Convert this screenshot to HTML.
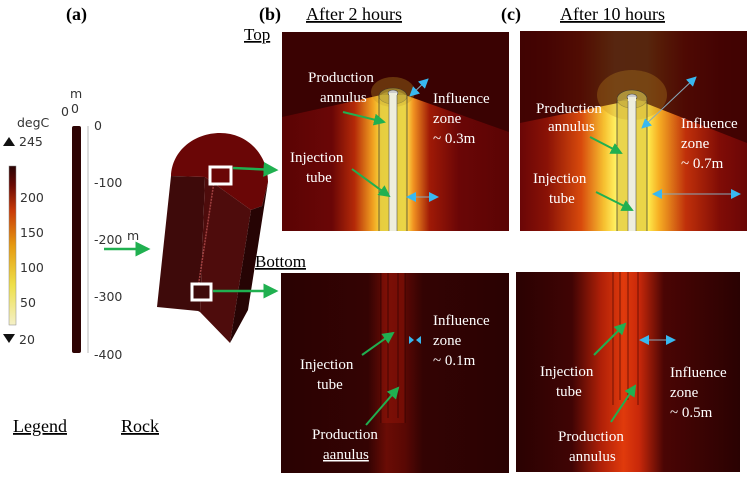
<!DOCTYPE html>
<html><head><meta charset="utf-8"><style>
html,body{margin:0;padding:0;background:#fff;}
svg{display:block;}
.s{font-family:"Liberation Serif",serif;}
.w{fill:#fff;font-family:"Liberation Serif",serif;font-size:15px;}
.d{font-family:"DejaVu Sans","Liberation Sans",sans-serif;font-size:12.5px;fill:#333;}
</style></head><body>
<svg width="756" height="477" viewBox="0 0 756 477" xmlns="http://www.w3.org/2000/svg">
<defs>
<linearGradient id="cb" x1="0" y1="1" x2="0" y2="0">
<stop offset="0" stop-color="#f4f0c8"/><stop offset="0.25" stop-color="#eee04a"/><stop offset="0.5" stop-color="#e69a10"/><stop offset="0.72" stop-color="#c83a08"/><stop offset="0.88" stop-color="#6a0a04"/><stop offset="1" stop-color="#2a0404"/>
</linearGradient>
<linearGradient id="tb" x1="282" x2="509" gradientUnits="userSpaceOnUse">
<stop offset="0" stop-color="#5a0404"/><stop offset="0.22" stop-color="#6a0606"/><stop offset="0.32" stop-color="#b52a08"/><stop offset="0.4" stop-color="#f0a020"/><stop offset="0.44" stop-color="#f8e040"/><stop offset="0.54" stop-color="#fff050"/><stop offset="0.58" stop-color="#f09020"/><stop offset="0.65" stop-color="#a01a06"/><stop offset="0.78" stop-color="#6a0606"/><stop offset="1" stop-color="#5a0404"/>
</linearGradient>
<linearGradient id="tc" x1="520" x2="747" gradientUnits="userSpaceOnUse">
<stop offset="0" stop-color="#6a0606"/><stop offset="0.12" stop-color="#8a1206"/><stop offset="0.27" stop-color="#d84a0c"/><stop offset="0.37" stop-color="#f6c030"/><stop offset="0.42" stop-color="#fff060"/><stop offset="0.56" stop-color="#fff050"/><stop offset="0.61" stop-color="#f7b024"/><stop offset="0.73" stop-color="#c0300a"/><stop offset="0.88" stop-color="#800c06"/><stop offset="1" stop-color="#6a0606"/>
</linearGradient>
<linearGradient id="bb" x1="282" x2="509" gradientUnits="userSpaceOnUse">
<stop offset="0" stop-color="#2a0202"/><stop offset="0.38" stop-color="#340303"/><stop offset="0.46" stop-color="#6a0c05"/><stop offset="0.54" stop-color="#5a0804"/><stop offset="0.62" stop-color="#330303"/><stop offset="1" stop-color="#2a0202"/>
</linearGradient>
<linearGradient id="bc" x1="516" x2="740" gradientUnits="userSpaceOnUse">
<stop offset="0" stop-color="#2a0202"/><stop offset="0.25" stop-color="#400404"/><stop offset="0.38" stop-color="#b02008"/><stop offset="0.48" stop-color="#e03a0c"/><stop offset="0.55" stop-color="#c8280a"/><stop offset="0.66" stop-color="#4a0504"/><stop offset="1" stop-color="#2a0202"/>
</linearGradient>
<marker id="ga" markerWidth="6" markerHeight="6" refX="5" refY="3" orient="auto"><path d="M0,0 L6,3 L0,6z" fill="#20b050"/></marker>
<marker id="ba" markerUnits="userSpaceOnUse" markerWidth="10" markerHeight="10" refX="9" refY="5" orient="auto"><path d="M0,0 L10,5 L0,10z" fill="#38b8f0"/></marker>
<marker id="bs" markerUnits="userSpaceOnUse" markerWidth="10" markerHeight="10" refX="1" refY="5" orient="auto"><path d="M10,0 L0,5 L10,10z" fill="#38b8f0"/></marker>
</defs>

<text x="66" y="20" class="s" font-size="18" font-weight="bold">(a)</text>
<text x="259" y="20" class="s" font-size="18" font-weight="bold">(b)</text>
<text x="306" y="20" class="s" font-size="18" text-decoration="underline">After 2 hours</text>
<text x="501" y="20" class="s" font-size="18" font-weight="bold">(c)</text>
<text x="560" y="20" class="s" font-size="18" text-decoration="underline">After 10 hours</text>
<text x="244" y="40" class="s" font-size="17" text-decoration="underline">Top</text>
<text x="255" y="267" class="s" font-size="17" text-decoration="underline">Bottom</text>
<text x="13" y="432" class="s" font-size="18" text-decoration="underline">Legend</text>
<text x="121" y="432" class="s" font-size="18" text-decoration="underline">Rock</text>

<text x="17" y="127" class="d">degC</text>
<path d="M3,146 L9,137 L15,146z" fill="#111"/><text x="19" y="146" class="d">245</text>
<rect x="9" y="166" width="7" height="159" fill="url(#cb)" stroke="#888" stroke-width="0.5"/>
<text x="20" y="202" class="d">200</text>
<text x="20" y="237" class="d">150</text>
<text x="20" y="272" class="d">100</text>
<text x="20" y="307" class="d">50</text>
<path d="M3,334 L9,343 L15,334z" fill="#111"/><text x="19" y="344" class="d">20</text>
<text x="70" y="98" class="d" font-size="10">m</text>
<text x="61" y="116" class="d" font-size="11">0</text><text x="71" y="113" class="d" font-size="11">0</text>
<rect x="72" y="126" width="9" height="227" fill="#2e0404" rx="2"/>
<line x1="88" y1="126" x2="88" y2="353" stroke="#bbb" stroke-width="1"/>
<text x="94" y="130" class="d">0</text>
<text x="94" y="187" class="d">-100</text>
<text x="94" y="244" class="d">-200</text>
<text x="127" y="240" class="d" font-size="10">m</text>
<text x="94" y="301" class="d">-300</text>
<text x="94" y="359" class="d">-400</text>
<line x1="104" y1="249" x2="148" y2="249" stroke="#20b050" stroke-width="2.5" marker-end="url(#ga)"/>

<path d="M171,176 C172,150 195,133 220,133 C248,133 268,155 268,182 L262,206 L251,210 L205,177 Z" fill="#6a0606"/>
<path d="M171,176 L205,177 L200,312 L198,311 L157,307 Z" fill="#3e0a0a"/>
<path d="M205,177 L251,210 L230,343 L200,312 Z" fill="#4e0c0c"/>
<path d="M251,210 L262,206 L268,182 L248,310 L230,343 Z" fill="#260404"/>
<line x1="215" y1="175" x2="197" y2="295" stroke="#a04040" stroke-width="1.5" stroke-dasharray="2,1"/>
<rect x="210" y="167" width="21" height="17" fill="#6a0606" stroke="#fff" stroke-width="3"/>
<rect x="192" y="284" width="19" height="16" fill="#3e0a0a" stroke="#fff" stroke-width="3"/>
<line x1="233" y1="168" x2="276" y2="170" stroke="#20b050" stroke-width="2.5" marker-end="url(#ga)"/>
<line x1="213" y1="291" x2="276" y2="291" stroke="#20b050" stroke-width="2.5" marker-end="url(#ga)"/>

<rect x="282" y="32" width="227" height="199" fill="url(#tb)"/>
<path d="M282,32 L509,32 L509,132 L405,95 C400,90 386,90 381,95 L282,117 Z" fill="#3a0202"/>
<ellipse cx="393" cy="92" rx="22" ry="15" fill="#c09020" opacity="0.35"/>
<ellipse cx="393" cy="96" rx="14" ry="8" fill="#a89030" opacity="0.8" stroke="#333" stroke-width="0.6"/>
<ellipse cx="393" cy="93" rx="5" ry="3" fill="#ccc" stroke="#444" stroke-width="0.6"/>
<rect x="379" y="95" width="28" height="136" fill="#d8c040" opacity="0.55"/>
<rect x="389" y="93" width="8" height="138" fill="#eeeedd"/>
<line x1="379" y1="95" x2="379" y2="231" stroke="#333" stroke-width="0.7"/>
<line x1="407" y1="95" x2="407" y2="231" stroke="#333" stroke-width="0.7"/>
<line x1="389" y1="95" x2="389" y2="231" stroke="#555" stroke-width="0.6"/>
<line x1="397" y1="95" x2="397" y2="231" stroke="#555" stroke-width="0.6"/>
<text x="308" y="82" class="w">Production</text>
<text x="320" y="102" class="w">annulus</text>
<text x="433" y="103" class="w">Influence</text>
<text x="433" y="123" class="w">zone</text>
<text x="433" y="143" class="w">~ 0.3m</text>
<text x="290" y="162" class="w">Injection</text>
<text x="306" y="182" class="w">tube</text>
<line x1="343" y1="112" x2="384" y2="122" stroke="#20b050" stroke-width="2" marker-end="url(#ga)"/>
<line x1="352" y1="169" x2="389" y2="196" stroke="#20b050" stroke-width="2" marker-end="url(#ga)"/>
<line x1="410" y1="96" x2="428" y2="79" stroke="#8ab" stroke-width="1" marker-start="url(#bs)" marker-end="url(#ba)"/>
<line x1="407" y1="197" x2="438" y2="197" stroke="#8ab" stroke-width="1" marker-start="url(#bs)" marker-end="url(#ba)"/>

<rect x="520" y="31" width="227" height="200" fill="url(#tc)"/>
<path d="M520,31 L747,31 L747,143 L645,103 C638,97 625,97 618,103 L520,123 Z" fill="#3a0202" opacity="0.85"/>
<ellipse cx="632" cy="95" rx="35" ry="25" fill="#c08a20" opacity="0.3"/>
<ellipse cx="632" cy="99" rx="15" ry="9" fill="#b8a040" opacity="0.85" stroke="#333" stroke-width="0.6"/>
<ellipse cx="632" cy="97" rx="5" ry="3" fill="#ccc" stroke="#444" stroke-width="0.6"/>
<rect x="617" y="101" width="30" height="130" fill="#d8c040" opacity="0.55"/>
<rect x="628" y="97" width="8" height="134" fill="#eeeedd"/>
<line x1="617" y1="101" x2="617" y2="231" stroke="#333" stroke-width="0.7"/>
<line x1="647" y1="101" x2="647" y2="231" stroke="#333" stroke-width="0.7"/>
<line x1="628" y1="101" x2="628" y2="231" stroke="#555" stroke-width="0.6"/>
<line x1="636" y1="101" x2="636" y2="231" stroke="#555" stroke-width="0.6"/>
<text x="536" y="113" class="w">Production</text>
<text x="548" y="131" class="w">annulus</text>
<text x="681" y="128" class="w">Influence</text>
<text x="681" y="148" class="w">zone</text>
<text x="681" y="168" class="w">~ 0.7m</text>
<text x="533" y="183" class="w">Injection</text>
<text x="549" y="203" class="w">tube</text>
<line x1="590" y1="137" x2="621" y2="153" stroke="#20b050" stroke-width="2" marker-end="url(#ga)"/>
<line x1="596" y1="192" x2="632" y2="210" stroke="#20b050" stroke-width="2" marker-end="url(#ga)"/>
<line x1="642" y1="128" x2="696" y2="77" stroke="#8ab" stroke-width="1" marker-start="url(#bs)" marker-end="url(#ba)"/>
<line x1="653" y1="194" x2="740" y2="194" stroke="#8ab" stroke-width="1" marker-start="url(#bs)" marker-end="url(#ba)"/>

<rect x="281" y="273" width="228" height="200" fill="url(#bb)"/>
<rect x="381" y="273" width="24" height="150" fill="#a01808" opacity="0.35"/>
<line x1="381" y1="273" x2="381" y2="423" stroke="#200" stroke-width="0.6"/>
<line x1="405" y1="273" x2="405" y2="423" stroke="#200" stroke-width="0.6"/>
<line x1="388" y1="273" x2="388" y2="418" stroke="#200" stroke-width="0.6"/>
<line x1="398" y1="273" x2="398" y2="418" stroke="#200" stroke-width="0.6"/>
<text x="433" y="325" class="w">Influence</text>
<text x="433" y="345" class="w">zone</text>
<text x="433" y="365" class="w">~ 0.1m</text>
<text x="300" y="369" class="w">Injection</text>
<text x="317" y="389" class="w">tube</text>
<text x="312" y="439" class="w">Production</text>
<text x="323" y="459" class="w" text-decoration="underline">aanulus</text>
<line x1="362" y1="355" x2="393" y2="333" stroke="#20b050" stroke-width="2" marker-end="url(#ga)"/>
<line x1="366" y1="425" x2="398" y2="388" stroke="#20b050" stroke-width="2" marker-end="url(#ga)"/>
<path d="M409,336 L414,340 L409,344z M421,336 L416,340 L421,344z" fill="#38b8f0"/>

<rect x="516" y="272" width="224" height="200" fill="url(#bc)"/>
<line x1="613" y1="272" x2="613" y2="405" stroke="#300" stroke-width="0.6"/>
<line x1="638" y1="272" x2="638" y2="405" stroke="#300" stroke-width="0.6"/>
<line x1="620" y1="272" x2="620" y2="400" stroke="#300" stroke-width="0.6"/>
<line x1="628" y1="272" x2="628" y2="400" stroke="#300" stroke-width="0.6"/>
<text x="670" y="377" class="w">Influence</text>
<text x="670" y="397" class="w">zone</text>
<text x="670" y="417" class="w">~ 0.5m</text>
<text x="540" y="376" class="w">Injection</text>
<text x="556" y="396" class="w">tube</text>
<text x="558" y="441" class="w">Production</text>
<text x="569" y="461" class="w">annulus</text>
<line x1="594" y1="355" x2="625" y2="324" stroke="#20b050" stroke-width="2" marker-end="url(#ga)"/>
<line x1="611" y1="422" x2="635" y2="386" stroke="#20b050" stroke-width="2" marker-end="url(#ga)"/>
<line x1="640" y1="340" x2="675" y2="340" stroke="#8ab" stroke-width="1" marker-start="url(#bs)" marker-end="url(#ba)"/>
</svg>
</body></html>
